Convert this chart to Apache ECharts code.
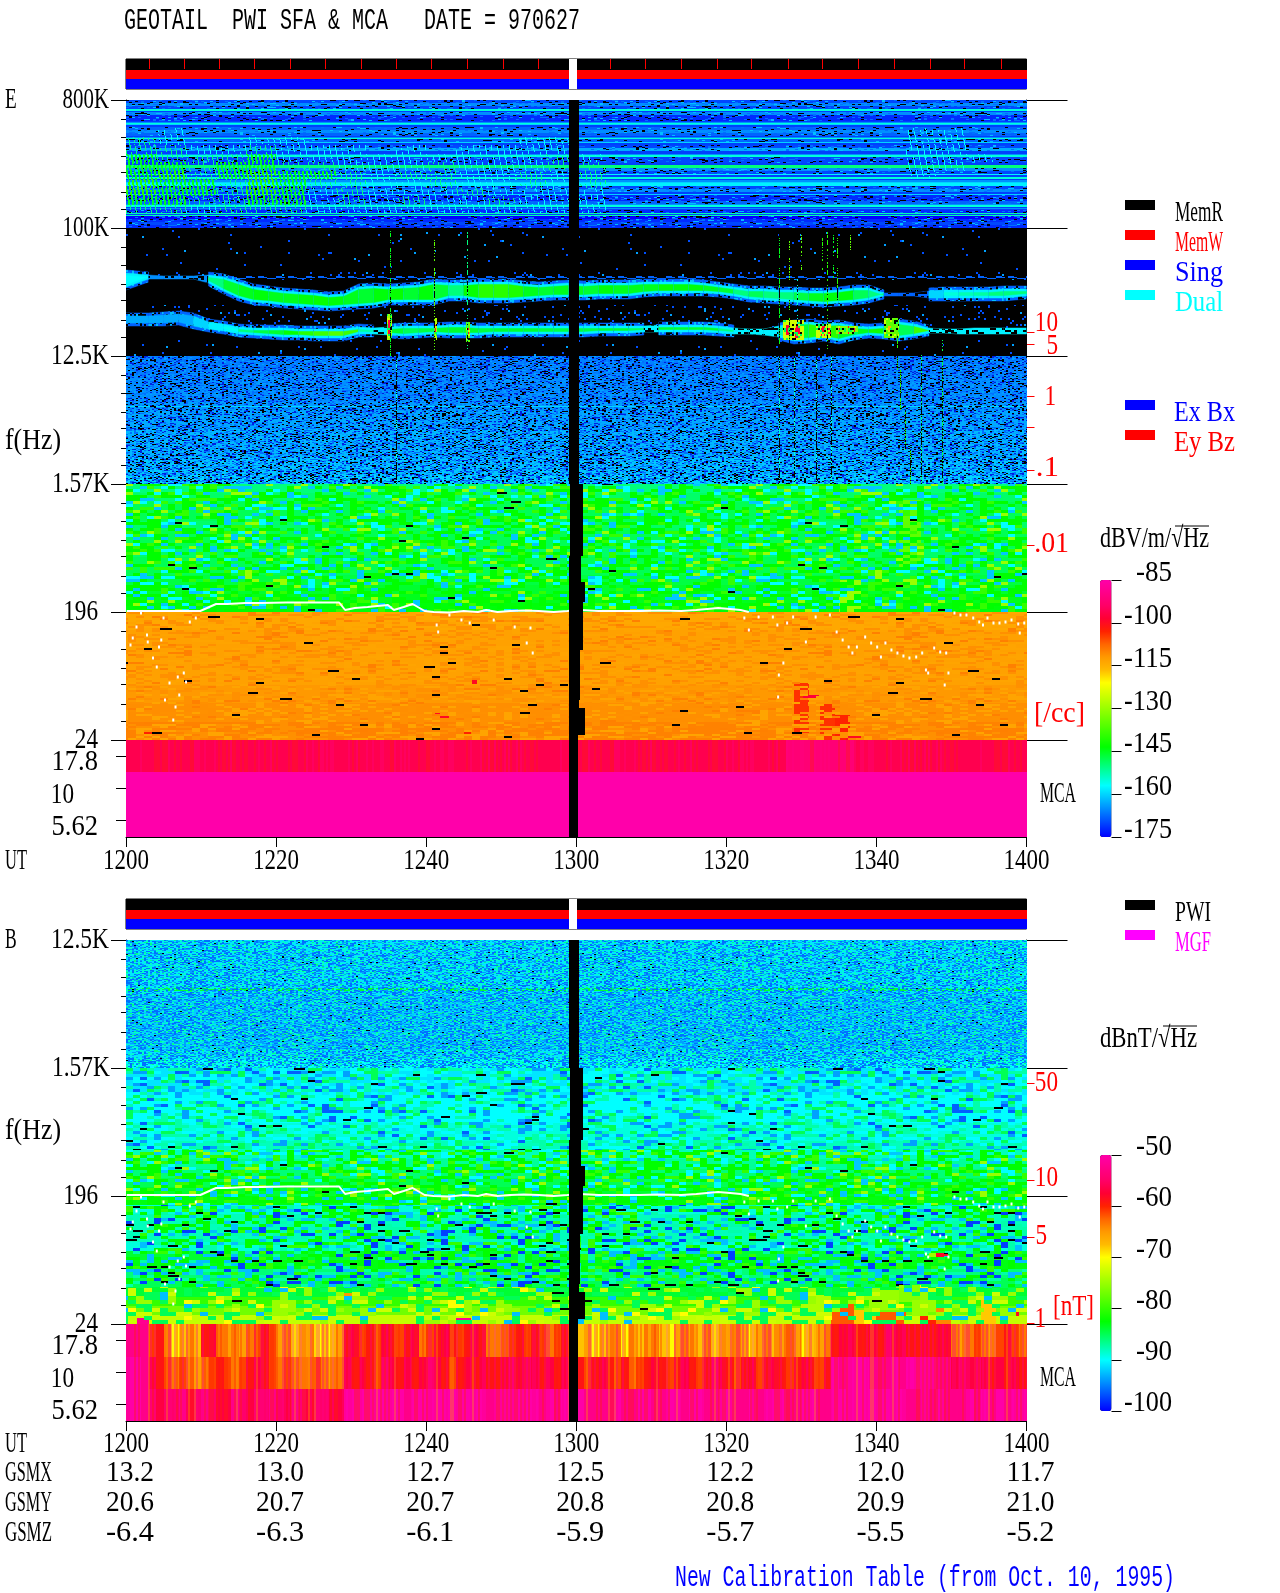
<!DOCTYPE html>
<html><head><meta charset="utf-8"><style>html,body{margin:0;background:#fff}#c{width:1280px;height:1593px}</style>
<script src="https://cdn.jsdelivr.net/npm/echarts@6/dist/echarts.min.js"></script></head><body><div id="c"></div>
<script>
// ---------- values (time in minutes after 1200 UT, frequency in display bins) ----------
const timeLabels=['1200','1220','1240','1300','1320','1340','1400'];
const timeTicks=[0,20,40,60,80,100,120];
const gsmX=['13.2','13.0','12.7','12.5','12.2','12.0','11.7'];
const gsmY=['20.6','20.7','20.7','20.8','20.8','20.9','21.0'];
const gsmZ=['-6.4','-6.3','-6.1','-5.9','-5.7','-5.5','-5.2'];
const eFreqLabels=['800K','100K','12.5K','1.57K','196','24','17.8','10','5.62'];
const eFreqBins=[0,128,256,384,512,640,656,688,720];
const bFreqLabels=['12.5K','1.57K','196','24','17.8','10','5.62'];
const bFreqBins=[0,128,256,384,400,432,464];
const eDensityLabels=['10','5','1','.1','.01'];
const eDensityBins=[232,244,296,370,445];
const eDensityExtra=[327];
const bFieldLabels=['50','10','5','1'];
const bFieldBins=[143,240,297,383];
const eBarTicks=[-175,-160,-145,-130,-115,-100,-85];
const bBarTicks=[-100,-90,-80,-70,-60,-50];
const memTicks=[3,7.7,12.4,17.1,21.8,26.5,31.3,36,40.7,45.4,50.2,54.9,64.5,69.2,73.9,78.7,83.3,88.2,92.8,97.6,102.3,107.1,111.7,116.6];

// dB per row, E 800K-100K
const eHfRows=[-170,-165,-170,-155,-165,-172,-172,-155,-160,-168,-165,-168,-155,-168,-160,-170,-163,-157,-155,-170,-170,-148,-150,-165,-170,-158,-155,-160,-158,-170,-165,-160,-172,-172,-168,-155,-157,-172,-153,-175,-172,-170,-172];
// wave patches over that range: 4-min columns, 8.5-bin rows from bin 28; . none 1 -157 2 -150 3 -145 4 -140
const eHfPatch=[
".1........................11..",
"21..11.......11...........11..",
"22112111.1.1111...........11..",
"3222311111111121..........111.",
"3323322111211122..........11..",
"3423433212211212..........1...",
"4332432211211212..............",
"4332431211121111..............",
"3322331212112111..............",
"2212221111111111.............."];
// two narrow-band emissions, 2-min columns: upper/lower edge bins and core dB
const upperTop=[173,175,176,176,176,175,177,182,187,189,191,192,193,195,194,187,186,187,186,185,182,183,183,182,182,182,184,185,184,183,184,183,183,183,182,182,182,182,183,185,187,189,189,190,190,191,191,190,188,188,193,193,193,191,190,190,190,190,189,189];
const upperBot=[187,179,179,179,179,183,191,198,202,203,205,206,207,208,207,206,205,202,202,202,202,198,198,200,200,200,199,198,197,197,197,196,196,196,194,193,193,193,193,194,196,199,200,201,202,203,204,203,202,200,196,196,196,198,198,198,198,198,198,196];
const upperCore=[-157,-165,-165,-165,-165,-150,-146,-145,-144,-145,-145,-144,-143,-144,-145,-146,-144,-143,-146,-144,-146,-150,-143,-140,-140,-141,-145,-146,-145,-145,-146,-144,-145,-145,-145,-143,-144,-144,-145,-146,-150,-148,-150,-150,-147,-145,-144,-144,-148,-150,-168,-168,-168,-160,-155,-153,-152,-150,-150,-152];
const lowerTop=[216,216,215,214,216,222,224,227,228,228,228,229,229,229,229,227,228,227,226,226,226,225,225,226,226,226,226,226,226,226,226,226,226,226,226,225,225,225,225,226,228,229,229,226,223,222,224,223,226,227,226,222,224,228,229,229,228,228,228,228];
const lowerBot=[223,223,223,222,226,229,231,234,235,236,237,237,238,238,238,234,234,235,236,235,234,235,235,235,234,234,234,234,234,234,234,233,233,233,232,232,232,232,232,233,234,234,235,237,241,240,238,241,237,235,236,238,236,233,233,234,234,234,234,234];
const lowerCore=[-163,-163,-163,-163,-160,-158,-156,-150,-147,-146,-143,-140,-138,-136,-138,-152,-148,-146,-148,-147,-146,-146,-146,-147,-146,-146,-146,-147,-147,-147,-147,-146,-146,-148,-147,-146,-146,-146,-146,-150,-155,-152,-152,-152,-146,-140,-140,-145,-145,-142,-150,-148,-138,-155,-158,-152,-150,-150,-150,-150];
// hot spots [t0,t1,bin0,bin1,dB]
const eHot=[[34.8,35.5,214,240,-130],[34.95,35.3,220,236,-98],[41,41.4,218,240,-128],[41.05,41.3,225,232,-98],[45.3,45.8,222,242,-135],[45.4,45.7,228,236,-98],[87.6,90.3,220,240,-125],[88,88.5,225,235,-98],[89.2,89.8,226,238,-98],[92,94,224,238,-125],[92.6,93.1,226,236,-98],[93.6,93.9,228,236,-100],[94.6,97.6,226,234,-132],[95,95.2,226,234,-98],[96.2,96.4,226,234,-98],[97,97.2,226,232,-100],[101,103,218,238,-135],[101.6,102,226,232,-115]];
// bursts: [t, bin0, bin1, dB]
const eStreaks=[[35.2,130,256,-145],[41,140,250,-135],[45.5,130,250,-150],[87,130,245,-145],[88.4,140,180,-135],[88.4,200,245,-140],[89.4,175,225,-155],[90,130,170,-135],[92.8,132,170,-140],[93.4,132,250,-140],[94.2,132,180,-145],[94.7,132,200,-140],[96.5,135,155,-135],[102.8,235,270,-140],[103.2,270,310,-140],[103.8,310,350,-140],[104.5,350,385,-140],[106,250,384,-150],[108.7,240,384,-148],[87,256,384,-155],[89,256,384,-155],[92,256,384,-155],[94,256,384,-155],[36,256,384,-155]];
const eDotted=[0,120,176,179,-168];
const e3Rows=[-166,-166,-165,-165,-165,-164,-163,-163,-162,-162,-162,-161,-161,-160];
const e4Rows=[-150,-149,-148,-148,-149,-148,-148,-149,-148,-148,-147,-146,-145,-144];
const e5Rows=[-114,-114,-113,-113,-113,-113,-113,-113,-112,-112,-111,-111,-110,-110];
const e5Hot=[[41.2,43,613,618,-100],[1.7,3.4,632,636,-103],[44.2,46,632,636,-103],[45.8,46.8,572,575,-85],[45.8,46.8,580,584,-100],[89,91,583,633,-104],[90.2,92.4,595,600,-98],[92.5,94.5,603,640,-104],[94.5,96.5,615,640,-103],[96,98,634,640,-100]];
const eMcaHigh=-96, eMcaLow=-85;
const eMcaHot=[[88,97,640,672,-92]];
const b1Rows=[-91,-91,-91,-91,-91,-91,-92,-92,-92,-92,-92,-92,-91,-90];
const b2Rows=[-91,-91,-91,-90,-90,-90,-89,-89,-88,-88,-87,-86,-85,-84];
const b3Rows=[-83,-89,-88,-88,-88,-89,-84,-83,-86,-85,-84,-80,-77,-73];
const bLines=[[0,120,48,51,-84]];
const bHot=[[1.5,3,378,384,-52],[44,46,378,384,-52],[28.6,30.2,353,360,-65],[94,97,364,384,-62],[97,100,370,384,-68],[100,104,372,384,-62],[104,108,376,384,-60],[108,110,368,384,-64],[114,116,360,384,-68],[117,119,372,376,-58],[90,94,355,375,-74],[99,103,350,370,-75],[103,106,345,362,-76],[107,109.5,313,317,-58]];
// MCA channels, 1-min columns: digit 0 yellow ... 9 pink
const bMca1="888"+"453"+"01"+"21"+"56"+"32323"+"454"+"230120102"+"5645465456345654565"+"323"+"45454345"+"5"+"1201230212310232130123202312320123"+"5665565766556566"+"323432"+"4543";
const bMca2="998"+"65434"+"323454345654"+"343234323"+"6565476565676545656556767656565"+"5456545345654565457654564565456545"+"9899988898999988"+"676765"+"6565";
const bMca3="998767786787668767787687677669999999989999999999899999989899"+"9888898899889989988998898999889988"+"9999999999889898"+"889898"+"9899";
// plasma line: continuous part and scattered dots [t, bins below 196 Hz]
const fpLine=[[0.1,-1],[9.9,-1],[10.8,-4],[12,-8],[13.5,-8],[15.9,-9],[18,-9],[21.3,-9.5],[24,-9.5],[28.4,-9.5],[29.2,-2],[30.5,-4],[32.2,-5],[33.5,-6],[34.9,-7],[35.7,-2],[37,-5],[38.2,-8],[39.8,-1],[41,0],[43.1,0.5],[45,-1],[46.9,0],[48,-2],[49.5,0],[51.2,-1],[53,-1.5],[55,-1],[57,0],[58.8,-1],[60.5,-2],[63,-1],[65,-1],[68.5,-1],[71,-1.5],[74,-1],[76,-2],[78.9,-4],[80.5,-3],[81.9,-2],[83,0]];
const fpDots=[[2,1],[1.4,15],[0.9,26],[0.6,33],[2.8,23],[2.9,30],[4.7,28],[4.4,35],[3.6,46],[4.1,55],[5.8,71],[6.9,65],[7.7,61],[8,70],[7.1,83],[5.2,88],[6.6,95],[6.3,108],[8.5,10],[9.3,6],[5,6],[41.4,13],[41.6,20],[43.1,3],[44.7,8],[45.8,11],[49,8],[51.8,15],[53.9,16],[53.4,31],[54.2,41],[82.4,6],[83,18],[84.3,5],[86.2,5],[86.8,13],[88.1,11],[87.6,51],[87,63],[86.9,85],[88.9,5],[90.6,30],[91.9,5],[93.8,3],[94.7,20],[95.5,28],[96.3,35],[96.8,41],[97.4,35],[98.5,25],[99.3,31],[100.1,35],[100.6,45],[101.2,31],[102,38],[102.8,41],[103.6,44],[104.4,46],[105.3,45],[106.1,41],[106.6,58],[106.9,61],[107.7,36],[108.5,40],[109.3,41],[109.1,73],[109.6,61],[110.4,1],[111.2,3],[112,3],[112.9,6],[113.7,10],[114.2,13],[114.8,6],[115.6,11],[116.4,11],[117.2,10],[118,8],[118.9,12],[119.7,11],[119.1,21]];
// data gap [t0,t1, bins from 196 Hz]
const gapBlocks=[[59.1,60.3,-512,-128],[59.2,60.9,-128,-56],[59.1,60.6,-56,-30],[59.1,61.2,-30,-10],[59.1,60.9,-10,38],[59.1,60.5,38,88],[59.1,60.3,88,96],[59.1,61.2,96,123],[59.1,60.2,123,225]];

// ---------- styles ----------
const SERIF='29px "Liberation Serif"', MONO='29px "Liberation Mono"';
const rainbow=['#0000ff','#0040ff','#0080ff','#00c0ff','#00ffff','#00ffaa','#00ff55','#00ff00','#33ff00','#66ff00','#99ff00','#ccff00','#ffff00','#ffbb00','#ff9900','#ff6600','#ff2200','#ff0033','#ff0066','#ff0088','#ff00aa'];
// Decorative grain only: fill patterns that imitate the instrument's pixel speckle; they carry no values.
function grain(i,j,s){let n=Math.imul(i,374761393)+Math.imul(j,668265263)+Math.imul(s,1442695041)|0;n=Math.imul(n^(n>>>13),1274126177);n=Math.imul(n^(n>>>16),2246822519);n^=n>>>13;return (n>>>0)/4294967296;}
function tile(w,h,cw,ch,pal,s,alpha){const c=document.createElement('canvas');c.width=w;c.height=h;const x=c.getContext('2d');x.globalAlpha=alpha||1;
 for(let j=0;j*ch<h;j++)for(let i=0;i*cw<w;i++){const r=grain(i,j,s);let a=0;for(const p of pal){a+=p[1];if(r<a){x.fillStyle=p[0];
  const blk=p[0]==='#000'&&cw>3;x.fillRect(i*cw,j*ch,blk?cw+Math.floor(grain(i,j,s+9)*5):cw,blk?2:ch);break;}}}return c;}
const hatchCache={};
function hatchFor(color,v){const k=color+v;if(hatchCache[k])return hatchCache[k];const c=document.createElement('canvas');c.width=60;c.height=60;const x=c.getContext('2d');x.fillStyle=color;
 const per=v>-148?4:v>-155?5:6,wid=v>-148?2:1,skip=v>-148?.1:.3;
 for(let j=0;j<60;j++)for(let i=0;i<60;i++){if(((i-Math.floor(j/5))%per+per)%per<wid&&grain(i,Math.floor(j/2),5)>skip)x.fillRect(i,j,1,1);}
 return hatchCache[k]=c;}
const T={none:0,hf:1,hatch:2,e3:3,dot:4,band:5,sparse:6,sparse2:7,eGreen:8,eOrange:9,v:10,bSpeck:11,bCyan:12,bGreen:13,bLime:14,streak:15,hot:16,hfLine:17,vE:18};
const tiles=[null,
 tile(420,96,3,1,[['#000',.09],['#0070ff',.1],['#00c0ff',.05]],1),
 null,
 tile(424,128,2,1,[['#000',.13],['#0070ff',.18],['#00a0ff',.14],['#0020e0',.12]],2),
 tile(300,100,3,2,[['#000',.3]],3),
 tile(300,100,2,2,[['#000',.22],['#0060ff',.16],['#00c0ff',.14]],4),
 tile(400,200,2,2,[['#0050ff',.012],['#00a0ff',.003]],6),
 tile(400,200,2,2,[['#0050ff',.05],['#00a0ff',.012]],7),
 tile(630,129,7,3,[['#00ff00',.32],['#33ff00',.1],['#99ff00',.06],['#00ffff',.08],['#00c8ff',.08],['#000',.009]],8),
 tile(640,128,8,2,[['#ff9000',.25],['#ffa400',.2],['#ff8000',.05],['#000',.009]],9),
 tile(420,10,2,10,[['#ff2200',.3],['#ff0088',.3],['#ff9900',.08]],10,.35),
 tile(420,130,2,1,[['#0070ff',.25],['#00ffcc',.18],['#00a0ff',.2],['#00ff88',.05],['#000',.008]],11),
 tile(630,129,7,3,[['#00a0ff',.1],['#00ffff',.22],['#00ffaa',.17],['#00ff55',.12],['#0060ff',.04],['#000',.012]],12),
 tile(630,129,7,3,[['#00ff00',.2],['#00ffaa',.12],['#00c0ff',.13],['#33ff00',.08],['#0040ff',.09],['#000',.04]],13),
 tile(640,128,8,4,[['#99ff00',.14],['#ccff00',.08],['#00ff55',.2],['#ffff00',.04],['#00c0ff',.04],['#000',.012]],14),
 tile(30,30,3,1,[['#000',.65]],15),
 tile(60,60,2,2,[['#000',.12],['#ccff00',.14],['#00ff55',.14]],16),
 tile(420,96,420,1,[['#0040ff',.42],['#0090ff',.14]],17),
 tile(420,10,2,10,[['#ff2200',.25],['#ff0088',.25]],18,.3)
];

// ---------- cells: [t0,t1,bin0,bin1,dB,tile] ----------
function rows(vals,b0,b1,tf){const h=(b1-b0)/vals.length;return vals.map((v,i)=>[0,120,b0+i*h,b0+(i+1)*h,v,tf(v,i)]);}
const eCells=[];
eCells.push(...rows(eHfRows,0,128,v=>v<-161?T.hf:T.hfLine));
const patchDb={1:-157,2:-150,3:-145,4:-140};
eHfPatch.forEach((s,r)=>[...s].forEach((ch,c)=>{if(ch!=='.')eCells.push([4*c,4*c+4,28+r*8.5,28+(r+1)*8.5,patchDb[ch],T.hatch]);}));
eCells.push([0,120,128,256,-999,0]);
eCells.push([0,120,128,172,-999,T.sparse],[0,120,172,180,-999,T.sparse2],[0,120,205,228,-999,T.sparse2],[0,120,240,256,-999,T.sparse]);
eCells.push([...eDotted,T.streak]);
eCells.push(...rows(e3Rows,256,384,()=>T.e3));
eCells.push([0,120,306,307,-160,T.dot]);
eCells.push(...rows(e4Rows,384,512,()=>T.eGreen));
eCells.push([103,106,400,470,-135,T.eGreen],[95,98,480,512,-130,T.eGreen]);
eCells.push(...rows(e5Rows,512,640,()=>T.eOrange));
e5Hot.forEach(h=>eCells.push([...h,T.eOrange]));
eCells.push([0,120,640,672,eMcaHigh,T.vE]);
eMcaHot.forEach(h=>eCells.push([...h,T.vE]));
eCells.push([0,120,672,737,eMcaLow,0]);
// band pieces: [t0,t1,top0,bot0,dB,top1,bot1,tile]
function band(top,bot,core,out){const n=top.length;for(let i=0;i<n-1;i++){const t0=i?2*i+1:0,t1=i===n-2?120:2*i+3,c=core[i],thick=bot[i]-top[i]>6;
 if(thick)out.push([t0,t1,top[i]-3,bot[i]+3,-168,top[i+1]-3,bot[i+1]+3,T.band]);
 out.push([t0,t1,top[i],bot[i],Math.min(c,-158),top[i+1],bot[i+1],thick?0:T.dot]);
 if(thick)out.push([t0,t1,top[i]+2.5,bot[i]-2.5,c,top[i+1]+2.5,bot[i+1]-2.5,0]);}}
const eBands=[];band(upperTop,upperBot,upperCore,eBands);band(lowerTop,lowerBot,lowerCore,eBands);
const eOver=[];
eHot.forEach(h=>eOver.push([...h,T.hot]));
eStreaks.forEach(s=>eOver.push([s[0],s[0]+.14,s[1],s[2],s[3],T.streak]));

const bCells=[];
bCells.push(...rows(b1Rows,0,128,()=>T.bSpeck));
bLines.forEach(h=>bCells.push([...h,T.bSpeck]));
bCells.push(...rows(b2Rows,128,256,(v,i)=>i>=9?T.eGreen:T.bCyan));
bCells.push(...rows(b3Rows,256,384,(v,i)=>i>=10?T.bLime:i===0?T.eGreen:T.bGreen));
bHot.forEach(h=>bCells.push([...h,T.bLime]));
[[bMca1,384,417],[bMca2,417,449],[bMca3,449,481]].forEach(([s,b0,b1])=>{[...s].forEach((d,i)=>bCells.push([i,i+1,b0,b1,-70+2.2*(+d),T.v]));});

// ---------- axes ----------
const LEFT=126,W=900.5;
const grids=[{left:LEFT,width:W,top:59,height:30,show:true,borderColor:'#000',borderWidth:1,backgroundColor:'transparent'},
 {left:LEFT,width:W,top:100,height:737},
 {left:LEFT,width:W,top:899,height:30,show:true,borderColor:'#000',borderWidth:1,backgroundColor:'transparent'},
 {left:LEFT,width:W,top:940,height:481},
 {left:1100,width:11.5,top:580,height:257},
 {left:1100,width:11.5,top:1155,height:256}];
const off={show:false};
const xAxes=[
 {gridIndex:0,type:'value',min:0,max:120,show:false},
 {gridIndex:1,type:'value',min:0,max:120,position:'bottom',axisLine:{lineStyle:{color:'#000'},onZero:false},axisTick:{length:10,lineStyle:{color:'#000'},customValues:timeTicks},axisLabel:off,splitLine:off},
 {gridIndex:2,type:'value',min:0,max:120,show:false},
 {gridIndex:3,type:'value',min:0,max:120,position:'bottom',axisLine:{lineStyle:{color:'#000'},onZero:false},axisTick:{length:10,lineStyle:{color:'#000'},customValues:timeTicks},axisLabel:off,splitLine:off},
 {gridIndex:4,type:'value',show:false},{gridIndex:5,type:'value',show:false}];
const yAxes=[];
function yA(g,min,max,pos,vals,len,color,line,inverse){yAxes.push({gridIndex:g,type:'value',min,max,inverse,position:pos,axisLine:{show:!!line,onZero:false,lineStyle:{color:'#000'}},axisTick:{show:true,length:len,lineStyle:{color},customValues:vals},axisLabel:off,splitLine:off});return yAxes.length-1;}
const minorOffsets=[19,37,56,72,92,109];
const minors=n=>{const a=[];for(let b=0;b<n;b++)minorOffsets.forEach(o=>a.push(b*128+o));return a;};
yA(0,0,3,'left',[],0,'#000',false,true);
const yE=yA(1,0,737,'left',[0,128,256,384,512,640],15,'#000',true,true);
yA(1,0,737,'left',minors(5),5,'#000',false,true);
yA(1,0,737,'left',[656,688,720],10,'#000',false,true);
yA(1,0,737,'right',[0,128,256,384,512,640],41,'#000',true,true);
yA(1,0,737,'right',[...eDensityBins,...eDensityExtra],8,'#f00',false,true);
const yS2=yA(2,0,3,'left',[],0,'#000',false,true);
const yB=yA(3,0,481,'left',[0,128,256,384],15,'#000',true,true);
yA(3,0,481,'left',minors(3),5,'#000',false,true);
yA(3,0,481,'left',[400,432,464],10,'#000',false,true);
yA(3,0,481,'right',[0,128,256,384],41,'#000',true,true);
yA(3,0,481,'right',bFieldBins,8,'#f00',false,true);
const yCE=yA(4,-175,-85,'right',eBarTicks,10,'#000',false,false);
const yCB=yA(5,-100,-50,'right',bBarTicks,10,'#000',false,false);

// ---------- series ----------
function cell(p,api){const a=api.coord([api.value(0),api.value(2)]),b=api.coord([api.value(1),api.value(3)]);
 const x=Math.round(a[0]),y=Math.round(a[1]),shape={x,y,width:Math.max(1,Math.round(b[0])-x),height:Math.max(1,Math.round(b[1])-y)};
 const v=api.value(4),idx=api.value(5),color=v<-500?'#000':api.visual('color');
 if(idx===T.hatch)return {type:'rect',silent:true,shape,style:{fill:{image:hatchFor(color,v),repeat:'repeat'}}};
 const t=tiles[idx];const kids=[];
 if(v>-900||!t)kids.push({type:'rect',shape,style:{fill:color}});
 if(t)kids.push({type:'rect',shape,style:{fill:{image:t,repeat:'repeat'}}});
 return {type:'group',silent:true,children:kids};}
function trap(p,api){const t0=api.value(0),t1=api.value(1);
 const points=[api.coord([t0,api.value(2)]),api.coord([t1,api.value(5)]),api.coord([t1,api.value(6)]),api.coord([t0,api.value(3)])];
 const color=api.visual('color'),t=tiles[api.value(7)];
 const kids=[{type:'polygon',shape:{points},style:{fill:color,stroke:color,lineWidth:.5}}];
 if(t)kids.push({type:'polygon',shape:{points},style:{fill:{image:t,repeat:'repeat'}}});
 return {type:'group',silent:true,children:kids};}
const fixedColors=['#000','#f00','#00f','#fff'];
function fixed(p,api){const a=api.coord([api.value(0),api.value(2)]),b=api.coord([api.value(1),api.value(3)]);
 const x=Math.round(a[0]),y=Math.round(a[1]);
 return {type:'rect',silent:true,shape:{x,y,width:Math.max(1,Math.round(b[0])-x),height:Math.max(1,Math.round(b[1])-y)},style:{fill:fixedColors[api.value(4)]}};}
const statusCells=[];
[0,1,2].forEach(r=>{const y0=[0,1.05,2][r],y1=[1.05,2,3][r];statusCells.push([0,59.1,y0,y1,r],[59.1,60.05,y0,y1,3],[60.05,120,y0,y1,r]);});
const eStatus=[...statusCells,...memTicks.map(t=>[t,t+.13,0,.95,1])];
const gapCells=(base)=>gapBlocks.map(g=>[g[0],g[1],g[2]+base,g[3]+base,0]);
const cust=(xi,yi,data,fn,z)=>({type:'custom',xAxisIndex:xi,yAxisIndex:yi,data,renderItem:fn,encode:{x:[0,1],y:[2,3]},clip:true,z,silent:true,animation:false});
const traceSeries=(xi,yi,base)=>[
 {type:'line',xAxisIndex:xi,yAxisIndex:yi,data:fpLine.map(p=>[p[0],p[1]+base]),showSymbol:false,lineStyle:{color:'#fff',width:2},z:5,silent:true,animation:false},
 {type:'scatter',xAxisIndex:xi,yAxisIndex:yi,data:fpDots.map(p=>[p[0],p[1]+base]),symbol:'rect',symbolSize:[2,3],itemStyle:{color:'#fff',opacity:1},z:5,silent:true,animation:false}];
const series=[cust(1,yE,eCells,cell,2),cust(3,yB,bCells,cell,2),
 cust(1,yE,eBands,trap,3),cust(1,yE,eOver,cell,4),
 cust(0,0,eStatus,fixed,2),cust(2,yS2,statusCells,fixed,2),
 cust(1,yE,gapCells(512),fixed,6),cust(3,yB,gapCells(256),fixed,6),
 ...traceSeries(1,yE,512),...traceSeries(3,yB,256)];
const vm=(idx,min,max,top,h)=>({type:'continuous',seriesIndex:idx,dimension:4,min,max,calculable:false,hoverLink:false,realtime:false,left:1100,top,itemWidth:11.5,itemHeight:h,padding:0,text:null,showLabel:false,inRange:{color:rainbow},outOfRange:{color:['#000','#000']},orient:'vertical'});
const chart=echarts.init(document.getElementById('c'),null,{renderer:'canvas',width:1280,height:1593});
chart.setOption({animation:false,backgroundColor:'#fff',grid:grids,xAxis:xAxes,yAxis:yAxes,visualMap:[vm([0,2,3],-175,-85,580,257),vm(1,-100,-50,1155,256)],series});

// ---------- real text, placed through the axes ----------
const mc=document.createElement('canvas').getContext('2d');
function txt(s,x,y,o){o=o||{};const font=o.font||SERIF;mc.font=font;const cw=o.cw||11.7,tw=o.w||s.length*cw,m=mc.measureText(s).width;
 return {type:'text',x,y:y+1.5,scaleX:tw/m,silent:true,z:20,style:{text:s,font,fill:o.color||'#000',textAlign:o.align||'left',textVerticalAlign:'middle'}};}
const Ey=b=>chart.convertToPixel({gridIndex:1},[0,b])[1],By=b=>chart.convertToPixel({gridIndex:3},[0,b])[1];
const Tx=t=>chart.convertToPixel({gridIndex:1},[t,0])[0];
const g=[];
g.push(txt('GEOTAIL  PWI SFA & MCA   DATE = 970627',124,20,{w:456,font:MONO}));
g.push(txt('E',5,99),txt('f(Hz)',5,440,{w:56}),txt('UT',5,860,{w:22}));
g.push(txt('B',5,939),txt('f(Hz)',5,1130,{w:56}),txt('UT',5,1443,{w:22}));
const eFreqPlace=[[109,-1],[109,-1],[109,-1],[110,-1],[98,-1],[98,-1],[98,5],[74,6],[98,6]];
eFreqLabels.forEach((s,i)=>g.push(txt(s,eFreqPlace[i][0],Ey(eFreqBins[i])+eFreqPlace[i][1],{align:'right',w:s.length*11.6})));
const bFreqPlace=[[109,-1],[110,-1],[98,-1],[98,-1],[98,5],[74,6],[98,6]];
bFreqLabels.forEach((s,i)=>g.push(txt(s,bFreqPlace[i][0],By(bFreqBins[i])+bFreqPlace[i][1],{align:'right',w:s.length*11.6})));
timeLabels.forEach((s,i)=>{g.push(txt(s,Tx(timeTicks[i]),860,{align:'center',w:46}),txt(s,Tx(timeTicks[i]),1443,{align:'center',w:46}));});
[['GSMX',gsmX,1472],['GSMY',gsmY,1502],['GSMZ',gsmZ,1532]].forEach(([n,a,y])=>{g.push(txt(n,5,y,{w:47}));a.forEach((s,i)=>g.push(txt(s,Tx(timeTicks[i])+4,y,{align:'center',w:48})));});
g.push(txt('New Calibration Table (from Oct. 10, 1995)',675,1577,{color:'#00f',w:500,font:MONO}));
const edY=[322,345,396,467,543],edR=[1058,1058,1056,1059,1069];
eDensityLabels.forEach((s,i)=>g.push(txt(s,edR[i],edY[i],{color:'#f00',align:'right',w:s.length*11.6})));
const bfY=[1082,1177,1235,1318],bfR=[1058,1058,1047,1046];
bFieldLabels.forEach((s,i)=>g.push(txt(s,bfR[i],bfY[i],{color:'#f00',align:'right',w:s.length*11.6})));
g.push(txt('[/cc]',1034,713,{color:'#f00',w:51}),txt('[nT]',1053,1306,{color:'#f00',w:41}));
g.push(txt('MCA',1040,793,{w:36}),txt('MCA',1040,1377,{w:36}));
const Cy=(idx,v)=>chart.convertToPixel({yAxisIndex:idx,xAxisIndex:idx===yCE?4:5},[0,v])[1];
eBarTicks.forEach(v=>g.push(txt(String(v),1172,Cy(yCE,v)-8,{align:'right',w:String(v).length*12})));
bBarTicks.forEach(v=>g.push(txt(String(v),1172,Cy(yCB,v)-9,{align:'right',w:String(v).length*12})));
g.push(txt('dBV/m/√Hz',1100,538,{w:109}),txt('dBnT/√Hz',1100,1038,{w:97}));
const overline=(x0,x1,y)=>({type:'line',silent:true,z:20,shape:{x1:x0,y1:y,x2:x1,y2:y},style:{stroke:'#000',lineWidth:1}});
g.push(overline(1175,1209,526),overline(1163,1197,1026));
const swatches=[['MemR','#000',200],['MemW','#f00',230],['Sing','#00f',260],['Dual','#0ff',290],['Ex Bx','#00f',400],['Ey Bz','#f00',430],['PWI','#000',900],['MGF','#f0f',930]];
swatches.forEach(([s,c,y])=>{g.push({type:'rect',silent:true,z:20,shape:{x:1125,y,width:30,height:10},style:{fill:c}});g.push(txt(s,s.length>4?1174:1175,y+12,{color:c,w:s.length*(s.length>4?12.2:12)}));});
chart.setOption({graphic:{elements:g}});
</script></body></html>
